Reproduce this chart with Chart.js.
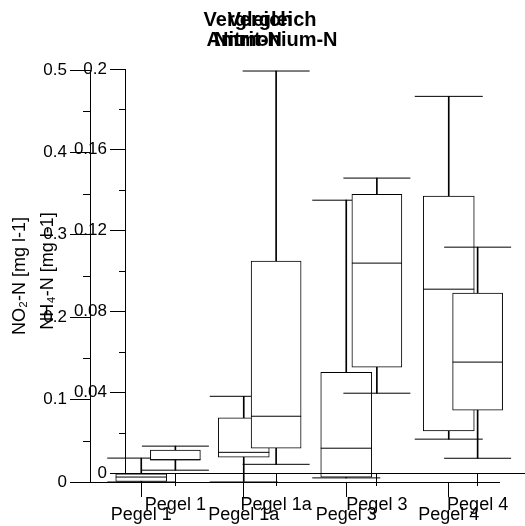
<!DOCTYPE html>
<html>
<head>
<meta charset="utf-8">
<script src="https://cdn.jsdelivr.net/npm/chart.js@4.4.0/dist/chart.umd.min.js"></script>
<style>
  html, body { margin: 0; padding: 0; background: #fff; overflow: hidden; }
  #wrap { position: relative; width: 525px; height: 526px; overflow: hidden; }
  #wrap canvas { position: absolute; top: 0; }
  #nitritChart { left: -4px; }
  #ammoniumChart { left: 16px; }
</style>
</head>
<body>
<div id="wrap">
  <canvas id="nitritChart" width="504" height="526"></canvas>
  <canvas id="ammoniumChart" width="512" height="526"></canvas>
</div>
<script>
const stations = ['Pegel 1', 'Pegel 1a', 'Pegel 3', 'Pegel 4'];

// Nitrit-N [mg l-1], box plot statistics per station
const nitritMin    = [0.000, 0.000, 0.005, 0.052];
const nitritQ1     = [0.000, 0.030, 0.006, 0.062];
const nitritMedian = [0.006, 0.036, 0.041, 0.234];
const nitritQ3     = [0.010, 0.078, 0.133, 0.347];
const nitritMax    = [0.029, 0.104, 0.342, 0.468];

// Ammonium-N [mg l-1]
const ammoniumMin    = [0.0014, 0.0043, 0.0395, 0.0073];
const ammoniumQ1     = [0.0063, 0.0123, 0.0524, 0.0311];
const ammoniumMedian = [0.0066, 0.0281, 0.1039, 0.0549];
const ammoniumQ3     = [0.0113, 0.1049, 0.1380, 0.0891];
const ammoniumMax    = [0.0133, 0.1990, 0.1460, 0.1118];

const nitritTicks = [0, 0.1, 0.2, 0.3, 0.4, 0.5];
const nitritMinorTicks = [0.05, 0.15, 0.25, 0.35, 0.45];
const ammoniumTicks = [0, 0.04, 0.08, 0.12, 0.16, 0.2];
const ammoniumMinorTicks = [0.02, 0.06, 0.1, 0.14, 0.18];

Chart.defaults.font.family = "'Liberation Sans', Arial, sans-serif";
Chart.defaults.color = '#000';

// short unlabeled ticks between the labeled ones
const minorTicks = {
  id: 'minorTicks',
  afterDraw(chart, args, opts) {
    const y = chart.scales.y;
    const ctx = chart.ctx;
    ctx.save();
    ctx.strokeStyle = '#000';
    ctx.lineWidth = 1;
    ctx.beginPath();
    opts.values.forEach(v => {
      const py = Math.round(y.getPixelForValue(v)) + 0.5;
      ctx.moveTo(y.right - opts.length, py);
      ctx.lineTo(y.right, py);
    });
    ctx.stroke();
    ctx.restore();
  }
};

function markers(data, radius, order) {
  return {
    type: 'line', data, showLine: false, clip: false,
    pointStyle: 'line', pointRadius: radius, pointHoverRadius: radius,
    pointBorderColor: '#000', pointBorderWidth: 1, order
  };
}

function boxplotChart(id, c) {
  return new Chart(document.getElementById(id), {
    type: 'bar',
    data: {
      labels: stations,
      datasets: [
        // whisker from min to max, hidden inside the box by its white fill
        { data: c.min.map((v, i) => [v, c.max[i]]), backgroundColor: '#000', borderWidth: 0,
          barThickness: 1, grouped: false, order: 4 },
        { data: c.q1.map((v, i) => [v, c.q3[i]]), backgroundColor: '#fff', borderColor: '#000',
          borderWidth: 1, borderSkipped: false, barThickness: c.boxWidth, grouped: false, order: 3 },
        markers(c.median, c.boxWidth / 2, 2),
        markers(c.max, c.capHalf, 1),
        markers(c.min, c.capHalf, 1)
      ]
    },
    options: {
      responsive: false,
      devicePixelRatio: 1,
      animation: false,
      events: [],
      layout: { padding: 0, autoPadding: false },
      plugins: {
        legend: { display: false },
        tooltip: { enabled: false },
        title: {
          display: true, text: c.title, color: '#000',
          font: { size: 20, weight: 'bold', lineHeight: 1 },
          padding: { top: 10, bottom: c.titleGap }
        },
        minorTicks: { values: c.minor, length: c.minorLength }
      },
      scales: {
        x: {
          offset: true,
          grid: { offset: false, drawOnChartArea: false, tickLength: c.xTickLength, tickColor: '#000' },
          border: { color: '#000', width: 1 },
          ticks: { font: { size: 18 }, padding: c.xLabelPad, maxRotation: 0, autoSkip: false },
          afterFit: s => { s.height = c.xHeight; }
        },
        y: {
          min: 0, max: c.yMax,
          afterBuildTicks: s => { s.ticks = c.ticks.map(v => ({ value: v })); },
          grid: { drawOnChartArea: false, tickLength: c.yTickLength, tickColor: '#000' },
          border: { color: '#000', width: 1 },
          ticks: { font: { size: 17 }, padding: 3, callback: v => String(+v.toFixed(2)) },
          title: { display: true, text: c.yTitle, font: { size: 18 }, padding: { top: c.yTitlePad } },
          afterFit: s => { s.width = c.yWidth; }
        }
      }
    },
    plugins: [minorTicks]
  });
}

boxplotChart('nitritChart', {
  title: ['Vergleich', 'Nitrit-N'], titleGap: 20,
  min: nitritMin, q1: nitritQ1, median: nitritMedian, q3: nitritQ3, max: nitritMax,
  ticks: nitritTicks, minor: nitritMinorTicks, yMax: 0.5,
  yTitle: 'NO₂-N [mg l-1]', yTitlePad: 13, yWidth: 94, yTickLength: 20, minorLength: 7,
  xHeight: 44, xTickLength: 15, xLabelPad: 7,
  boxWidth: 51, capHalf: 34
});

boxplotChart('ammoniumChart', {
  title: ['Vergleich', 'Ammonium-N'], titleGap: 19,
  min: ammoniumMin, q1: ammoniumQ1, median: ammoniumMedian, q3: ammoniumQ3, max: ammoniumMax,
  ticks: ammoniumTicks, minor: ammoniumMinorTicks, yMax: 0.2,
  yTitle: 'NH₄-N [mg l-1]', yTitlePad: 21, yWidth: 109, yTickLength: 15, minorLength: 6,
  xHeight: 53, xTickLength: 13, xLabelPad: 8,
  boxWidth: 50, capHalf: 33.5
});
</script>
</body>
</html>
